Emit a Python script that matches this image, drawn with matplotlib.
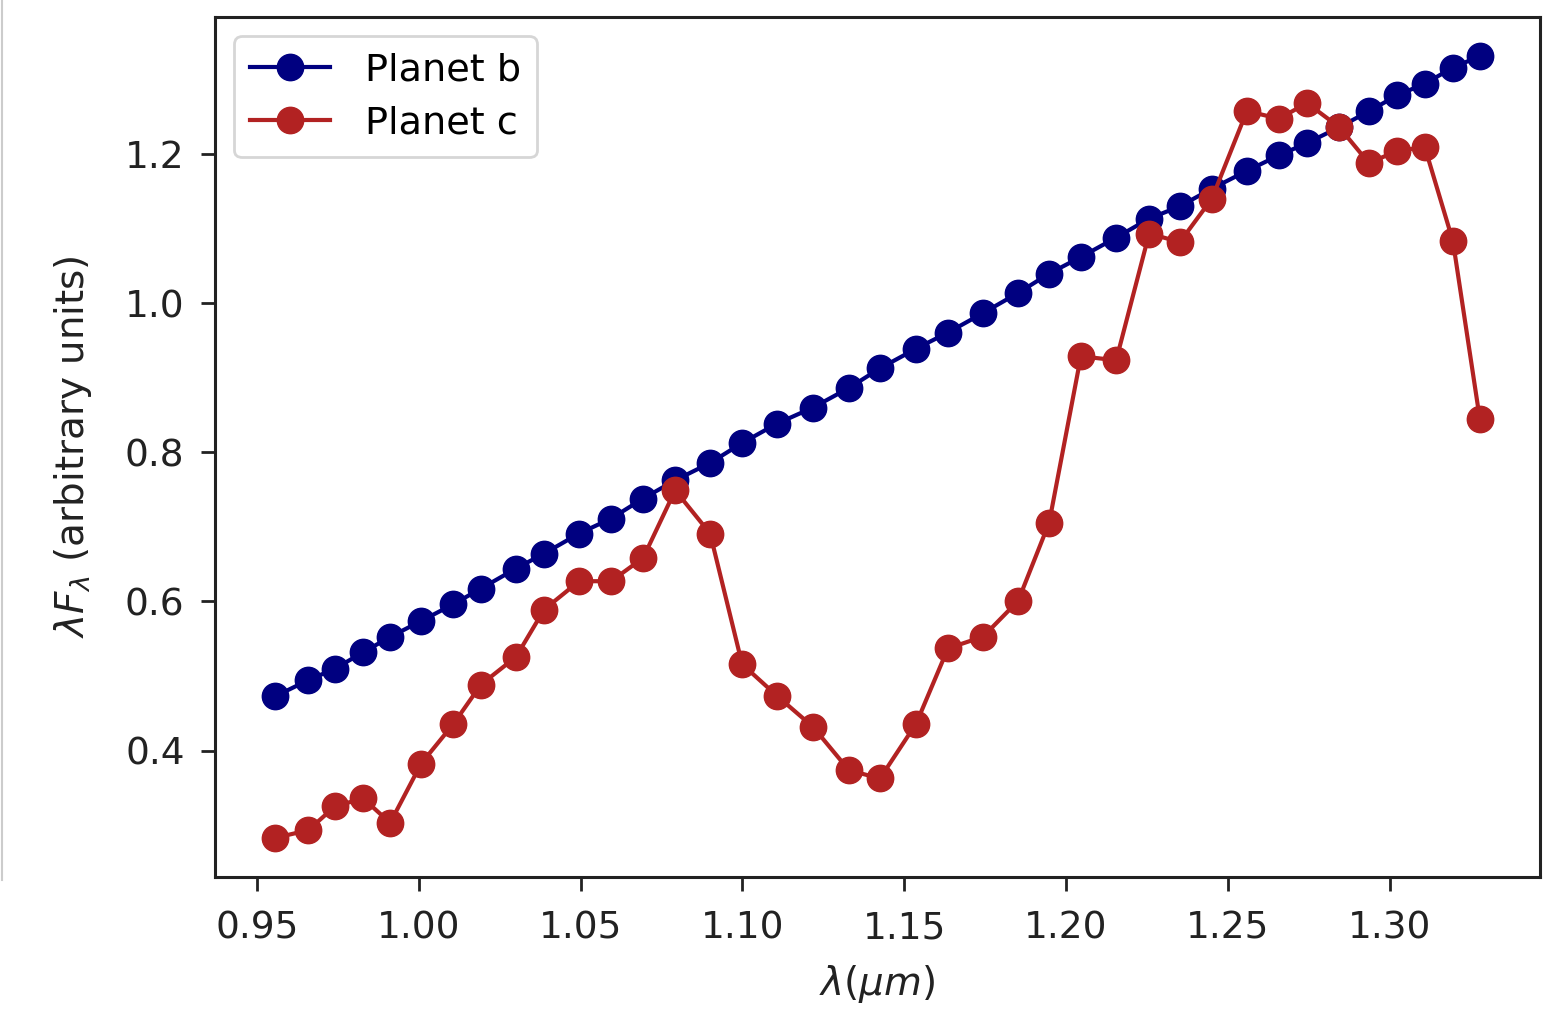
import matplotlib
matplotlib.use("Agg")
import matplotlib.pyplot as plt
from matplotlib.lines import Line2D

# Wavelength grid (micron)
wavelength = [
    0.9556, 0.9658, 0.9741, 0.9828, 0.9911, 1.0007, 1.0106, 1.0192, 1.0300,
    1.0387, 1.0495, 1.0594, 1.0693, 1.0792, 1.0900, 1.0999, 1.1107, 1.1218,
    1.1329, 1.1425, 1.1537, 1.1635, 1.1744, 1.1852, 1.1948, 1.2046, 1.2155,
    1.2257, 1.2352, 1.2451, 1.2559, 1.2658, 1.2745, 1.2844, 1.2936, 1.3023,
    1.3109, 1.3196, 1.3279,
]

# lambda * F_lambda, arbitrary units
flux_b = [
    0.4730, 0.4945, 0.5101, 0.5320, 0.5525, 0.5739, 0.5963, 0.6174, 0.6442,
    0.6643, 0.6911, 0.7112, 0.7380, 0.7625, 0.7857, 0.8125, 0.8385, 0.8600,
    0.8862, 0.9126, 0.9390, 0.9605, 0.9868, 1.0136, 1.0396, 1.0618, 1.0878,
    1.1133, 1.1298, 1.1535, 1.1773, 1.1981, 1.2146, 1.2357, 1.2571, 1.2785,
    1.2942, 1.3157, 1.3312,
]

flux_c = [
    0.2831, 0.2934, 0.3256, 0.3359, 0.3032, 0.3828, 0.4355, 0.4887, 0.5257,
    0.5892, 0.6272, 0.6272, 0.6584, 0.7491, 0.6911, 0.5159, 0.4734, 0.4319,
    0.3738, 0.3627, 0.4364, 0.5370, 0.5530, 0.6008, 0.7058, 0.9287, 0.9234,
    1.0932, 1.0819, 1.1401, 1.2575, 1.2473, 1.2682, 1.2361, 1.1878, 1.2039,
    1.2092, 1.0829, 0.8450,
]

series_labels = ["Planet b", "Planet c"]
series_colors = ["navy", "firebrick"]

tick_fs = 27
label_fs = 28
legend_fs = 27.5
plt.rcParams["font.family"] = ["DejaVu Sans"]
plt.rcParams["mathtext.fontset"] = "dejavusans"

fig = plt.figure(figsize=(15.63, 10.17), dpi=100)
ax = fig.add_axes([0.1376, 0.1377, 0.9853 - 0.1376, 0.9833 - 0.1377])

for flux, lab, col in zip([flux_b, flux_c], series_labels, series_colors):
    ax.plot(wavelength, flux, "-o", color=col, label=lab,
            linewidth=3.0, markersize=19)

ax.set_xticks([0.95, 1.00, 1.05, 1.10, 1.15, 1.20, 1.25, 1.30])
ax.set_yticks([0.4, 0.6, 0.8, 1.0, 1.2])
ax.tick_params(axis="x", labelsize=tick_fs, length=10, width=2.0, pad=14,
               colors="#222222")
ax.tick_params(axis="y", labelsize=tick_fs, length=10, width=2.0, pad=12,
               colors="#222222")
for sp in ax.spines.values():
    sp.set_linewidth(2.2)
    sp.set_color("#222222")

ax.set_xlabel(r"$\lambda (\mu m)$", fontsize=label_fs, color="#222222",
              labelpad=12)
ax.set_ylabel(r"$\lambda F_\lambda$ (arbitrary units)", fontsize=label_fs,
              color="#222222", labelpad=22)

leg = ax.legend(loc="upper left", fontsize=legend_fs, frameon=True,
                fancybox=True, borderpad=0.42, handlelength=2.1,
                handletextpad=0.9, labelspacing=0.45, borderaxespad=0.5)
leg.get_frame().set_edgecolor("#cccccc")
leg.get_frame().set_linewidth(2.0)

# thin grey page edge on the far left
fig.add_artist(Line2D([0.001, 0.001], [0.135, 1.0], transform=fig.transFigure,
                      color="#cccccc", linewidth=1.5))

fig.savefig("out.png", dpi=100)
